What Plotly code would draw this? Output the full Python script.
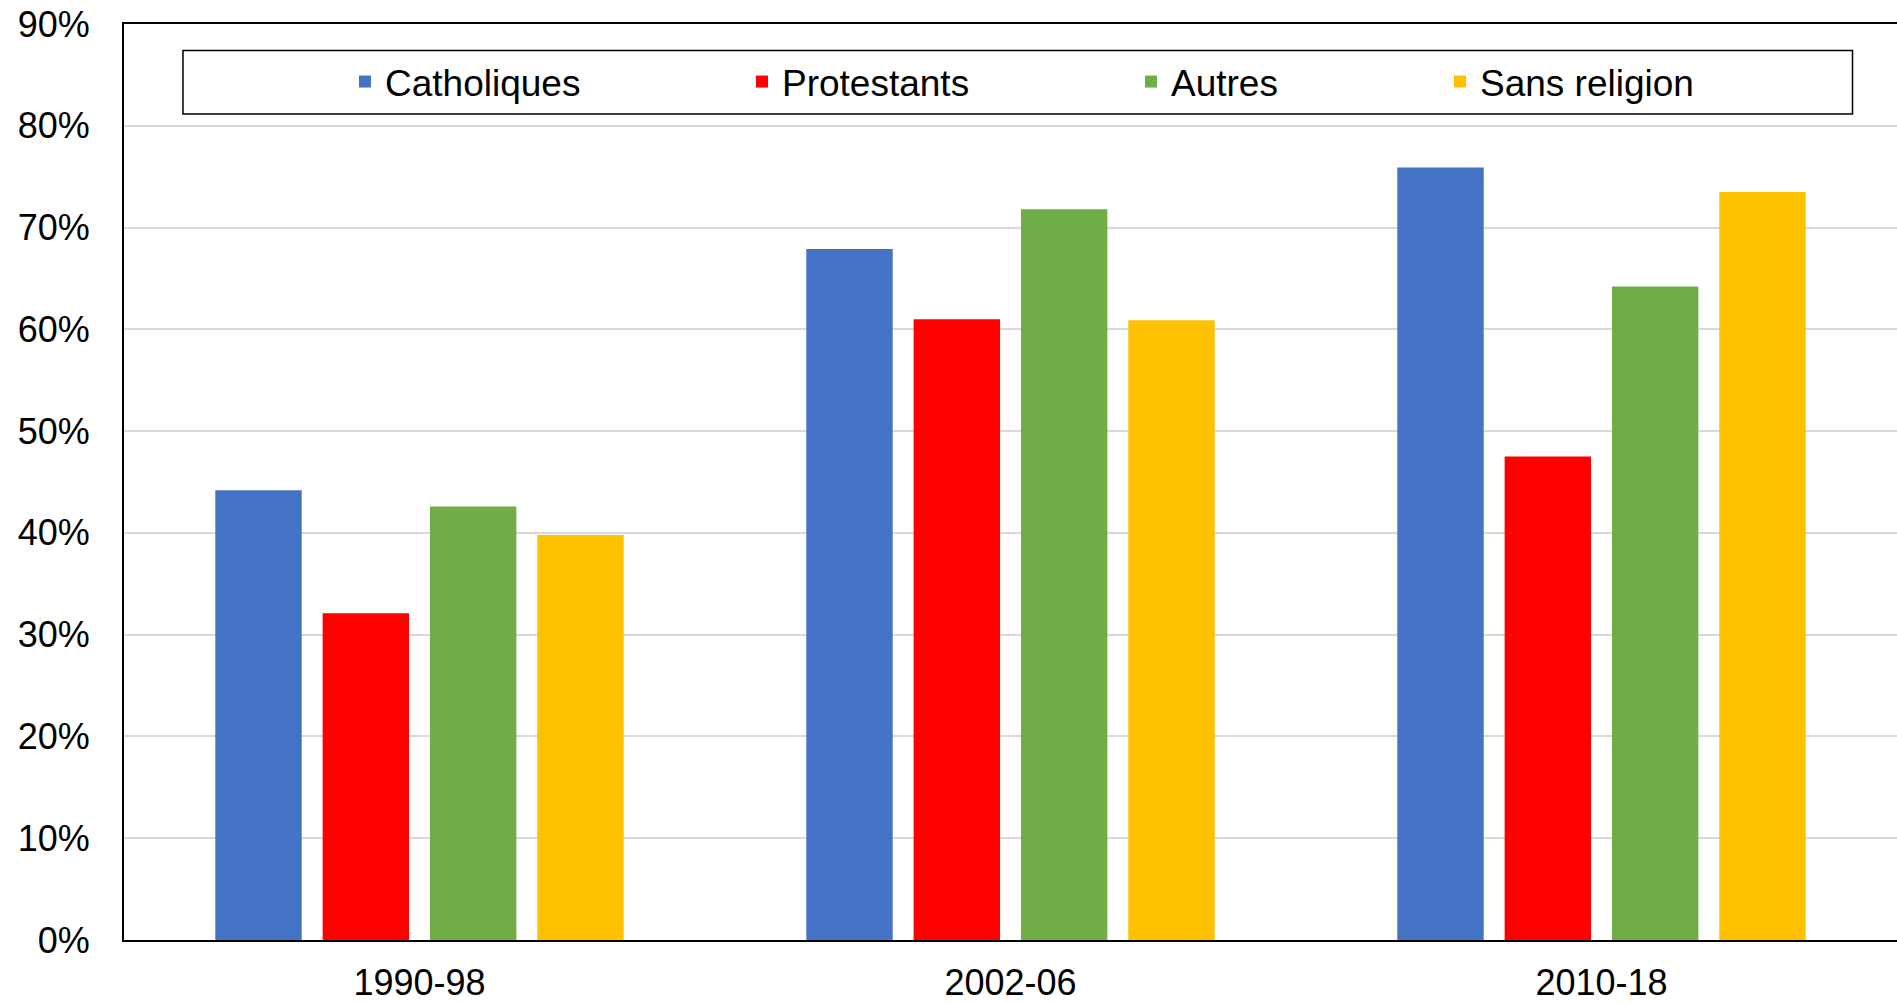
import plotly.graph_objects as go

# ---- data ----
periods = ["1990-98", "2002-06", "2010-18"]
series_names = ["Catholiques", "Protestants", "Autres", "Sans religion"]
catholiques = [44.2, 67.9, 75.9]
protestants = [32.1, 61.0, 47.5]
autres = [42.6, 71.8, 64.2]
sans_religion = [39.8, 60.9, 73.5]
y_ticks = [0, 10, 20, 30, 40, 50, 60, 70, 80, 90]
y_tick_labels = ["0%", "10%", "20%", "30%", "40%", "50%", "60%", "70%", "80%", "90%"]

values = [catholiques, protestants, autres, sans_religion]
colors = ["#4472C4", "#FF0000", "#70AD47", "#FFC000"]

W, H = 1897, 1003
ML, MR, MT, MB = 124, 0, 24, 63
PW, PH = W - ML - MR, H - MT - MB

def px_x(p):
    return (p - ML) / PW

def px_y(p):
    return (H - MB - p) / PH

FONT = "Liberation Sans, Arial, sans-serif"

fig = go.Figure()
legend_ids = ["legend", "legend2", "legend3", "legend4"]
for name, vals, col, lid in zip(series_names, values, colors, legend_ids):
    fig.add_trace(go.Bar(x=periods, y=vals, name=name, marker_color=col,
                         marker_line_width=0, legend=lid))

# legend item origins (pixels): symbol at +20, text at +40
legend_px = [345, 742, 1131, 1440]
layout_legends = {}
for lid, p in zip(legend_ids, legend_px):
    layout_legends[lid] = dict(
        x=px_x(p), xanchor="left", y=px_y(82), yanchor="middle",
        orientation="h", bgcolor="rgba(0,0,0,0)", borderwidth=0,
        font=dict(family=FONT, size=37, color="black"),
    )

fig.update_layout(
    width=W, height=H,
    margin=dict(l=ML, r=MR, t=MT, b=MB, autoexpand=False),
    paper_bgcolor="white", plot_bgcolor="white",
    barmode="group", bargap=0.2736, bargroupgap=0.195,
    showlegend=True,
    **layout_legends,
    shapes=[dict(type="rect", xref="paper", yref="paper",
                 x0=px_x(183), x1=px_x(1852.5), y0=px_y(114), y1=px_y(50.5),
                 line=dict(color="black", width=1.5), fillcolor="rgba(0,0,0,0)",
                 layer="above")],
)

fig.update_xaxes(
    type="category", showline=True, linecolor="black", linewidth=2, mirror=True,
    showgrid=False, ticks="", tickfont=dict(family=FONT, size=36, color="black"),
    ticklabelstandoff=10, automargin=False,
)
fig.update_yaxes(
    range=[0, 90], tickmode="array", tickvals=y_ticks, ticktext=y_tick_labels,
    showline=True, linecolor="black", linewidth=2, mirror=False,
    showgrid=True, gridcolor="#D9D9D9", gridwidth=2, zeroline=False, ticks="",
    tickfont=dict(family=FONT, size=36, color="black"),
    ticklabelstandoff=25, automargin=False,
)

fig.write_html("out.html", config={"displayModeBar": False},
               post_script="document.body.style.margin='0';document.body.style.overflow='hidden';")
